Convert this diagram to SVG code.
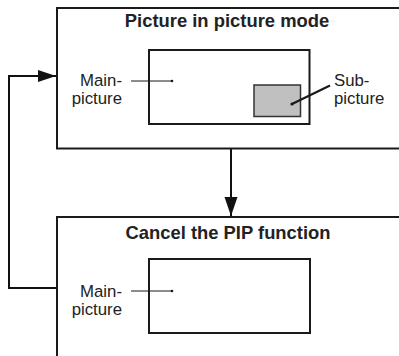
<svg xmlns="http://www.w3.org/2000/svg" width="399" height="356" viewBox="0 0 399 356">
  <defs>
    <style>
      .box { fill: #ffffff; stroke: #1a1a1a; stroke-width: 2; }
      .inner { fill: #ffffff; stroke: #1a1a1a; stroke-width: 2; }
      .sub { fill: #c0c0c0; stroke: #333333; stroke-width: 1.5; }
      .title { font-family: "Liberation Sans", Arial, sans-serif; font-weight: bold; font-size: 18.4px; fill: #222222; text-anchor: middle; }
      .label { font-family: "Liberation Sans", Arial, sans-serif; font-size: 16.8px; fill: #222222; }
      .leader { stroke: #1a1a1a; stroke-width: 1; fill: none; }
      .leader2 { stroke: #1a1a1a; stroke-width: 2.2; fill: none; }
      .conn { stroke: #111111; stroke-width: 2; fill: none; }
    </style>
    <marker id="arrow" markerUnits="userSpaceOnUse" markerWidth="20" markerHeight="14" refX="19" refY="6.5" orient="auto">
      <path d="M0,0 L19,6.5 L0,13 Z" fill="#111111"/>
    </marker>
    <marker id="arrowS" markerUnits="userSpaceOnUse" markerWidth="19" markerHeight="13" refX="18" refY="6" orient="auto">
      <path d="M0,0 L18,6 L0,12 Z" fill="#111111"/>
    </marker>
  </defs>

  <g id="node-pip">
    <rect class="box" x="57" y="8" width="350" height="140.5"/>
    <text class="title" x="227" y="27">Picture in picture mode</text>
    <rect class="inner" x="149" y="50" width="160.5" height="74"/>
    <rect class="sub" x="254" y="85" width="46.5" height="31.5"/>
    <text class="label" x="122" y="85.5" text-anchor="end">Main-</text>
    <text class="label" x="122" y="103.5" text-anchor="end">picture</text>
    <line class="leader" x1="131" y1="81" x2="172" y2="81"/>
    <circle cx="172" cy="81" r="1.3" fill="#1a1a1a"/>
    <text class="label" x="334" y="85.5">Sub-</text>
    <text class="label" x="334" y="103.5">picture</text>
    <line class="leader2" x1="292" y1="104" x2="330" y2="85.5"/>
    <circle cx="292" cy="104" r="1.6" fill="#1a1a1a"/>
  </g>

  <g id="node-cancel">
    <rect class="box" x="57" y="217" width="350" height="150"/>
    <text class="title" x="228" y="239">Cancel the PIP function</text>
    <rect class="inner" x="149" y="259" width="161" height="74"/>
    <text class="label" x="122" y="296.5" text-anchor="end">Main-</text>
    <text class="label" x="122" y="314.5" text-anchor="end">picture</text>
    <line class="leader" x1="131" y1="291" x2="172" y2="291"/>
    <circle cx="172" cy="291" r="1.3" fill="#1a1a1a"/>
  </g>

  <g id="connectors">
    <line class="conn" x1="231" y1="149" x2="231" y2="216" marker-end="url(#arrow)"/>
    <path class="conn" d="M56,288 H9 V76 H56" marker-end="url(#arrowS)"/>
  </g>
</svg>
